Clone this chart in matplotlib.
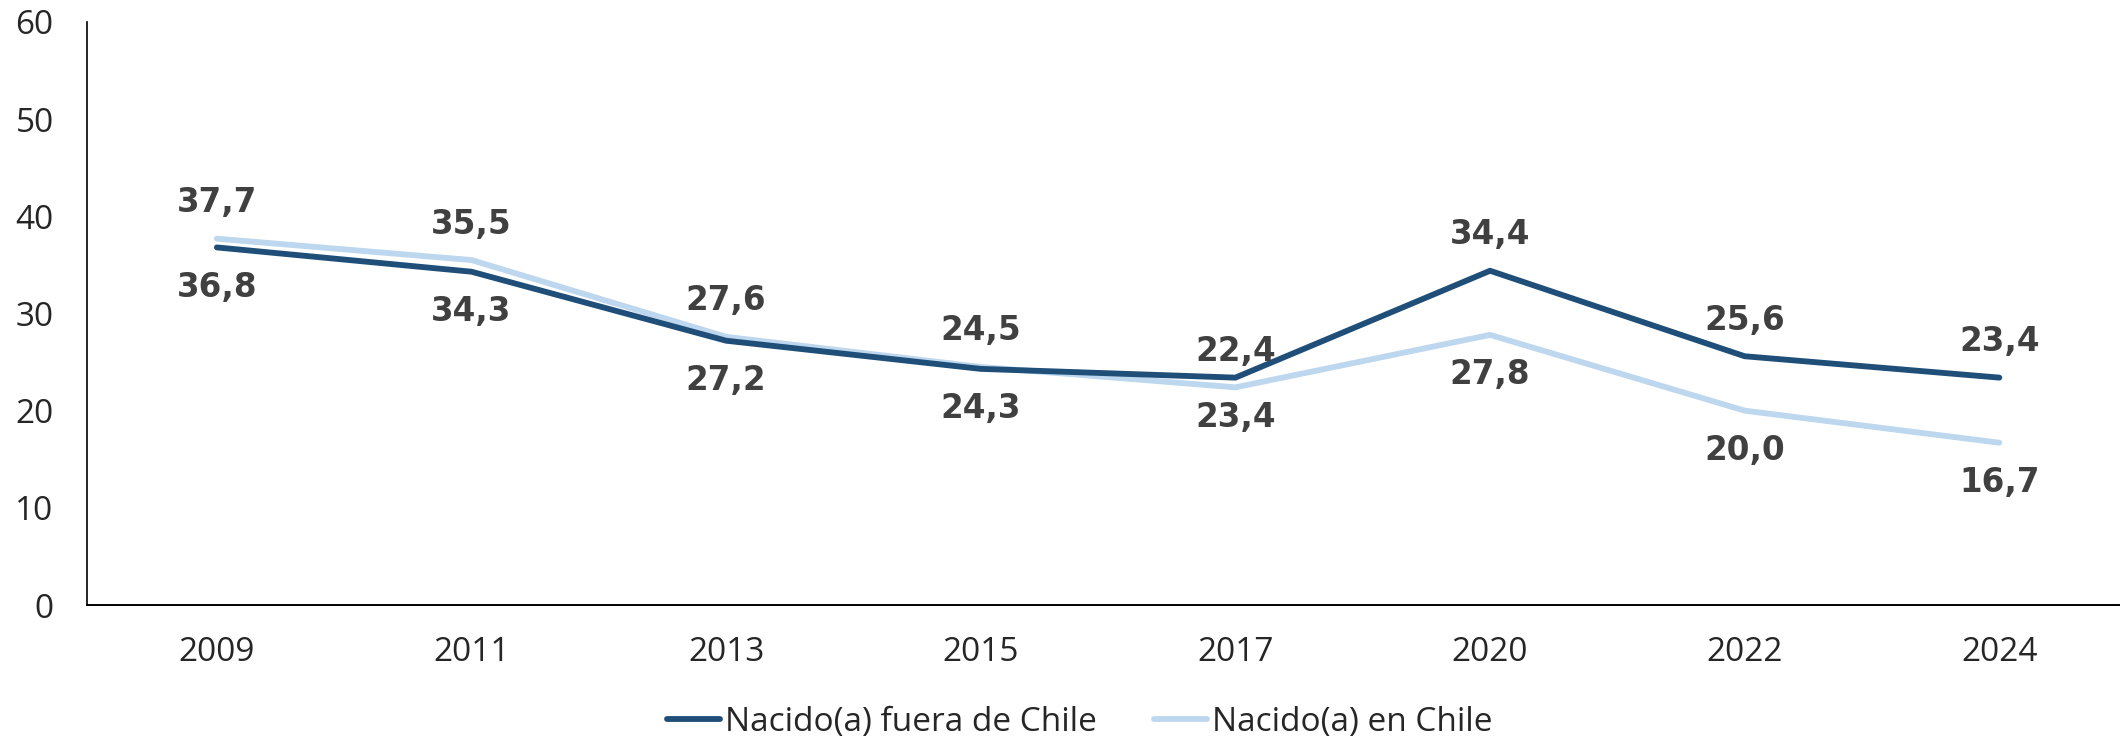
import matplotlib
matplotlib.use("Agg")
import matplotlib.pyplot as plt

years = ["2009", "2011", "2013", "2015", "2017", "2020", "2022", "2024"]
fuera = [36.8, 34.3, 27.2, 24.3, 23.4, 34.4, 25.6, 23.4]
en_chile = [37.7, 35.5, 27.6, 24.5, 22.4, 27.8, 20.0, 16.7]
# label shown above (+1) or below (-1) each point
fuera_pos = [-1, -1, -1, -1, -1, 1, 1, 1]
chile_pos = [1, 1, 1, 1, 1, -1, -1, -1]
yticks = [0, 10, 20, 30, 40, 50, 60]

dark = "#1F4E79"
light = "#BDD7EE"
tick_font = ["Open Sans", "DejaVu Sans"]

W, H = 2126, 739
fig = plt.figure(figsize=(W / 100, H / 100), dpi=100)
ax = fig.add_axes([87 / W, 1 - 605 / H, (2119 - 87) / W, (605 - 22) / H])

x = list(range(len(years)))
l1, = ax.plot(x, fuera, color=dark, lw=4.2, solid_capstyle="round",
              solid_joinstyle="round", label="Nacido(a) fuera de Chile", zorder=3)
l2, = ax.plot(x, en_chile, color=light, lw=4.2, solid_capstyle="round",
              solid_joinstyle="round", label="Nacido(a) en Chile", zorder=2)

def fmt(v):
    return f"{v:.1f}".replace(".", ",")

for xi, v, p in zip(x, fuera, fuera_pos):
    ax.annotate(fmt(v), (xi, v), xytext=(0, 36 if p > 0 else -40),
                textcoords="offset pixels", ha="center", va="center",
                fontsize=23.5, fontweight="bold", color="#404040",
                family="DejaVu Sans")
for xi, v, p in zip(x, en_chile, chile_pos):
    ax.annotate(fmt(v), (xi, v), xytext=(0, 36 if p > 0 else -40),
                textcoords="offset pixels", ha="center", va="center",
                fontsize=23.5, fontweight="bold", color="#404040",
                family="DejaVu Sans")

ax.set_xlim(-0.51, 7.47)
ax.set_ylim(0, 60)
ax.set_yticks(yticks)
ax.set_yticklabels([str(t) for t in yticks])
ax.set_xticks(x)
ax.set_xticklabels(years)
ax.tick_params(axis="both", length=0, colors="#262626", labelsize=24)
ax.tick_params(axis="y", pad=24)
ax.tick_params(axis="x", pad=22)
for lab in ax.get_xticklabels() + ax.get_yticklabels():
    lab.set_family(tick_font)
for s in ["top", "right"]:
    ax.spines[s].set_visible(False)
ax.spines["left"].set_linewidth(1.2)
ax.spines["bottom"].set_linewidth(1.4)
ax.spines["left"].set_color("#000000")
ax.spines["bottom"].set_color("#000000")

leg = fig.legend(handles=[l1, l2], loc="center", bbox_to_anchor=(1080 / W, 1 - 722 / H),
                 ncol=2, frameon=False, handlelength=1.6, handletextpad=0.15,
                 columnspacing=1.7, borderpad=0, prop={"family": tick_font, "size": 24})
for t in leg.get_texts():
    t.set_color("#262626")

fig.savefig("out.png", dpi=100, facecolor="white")
